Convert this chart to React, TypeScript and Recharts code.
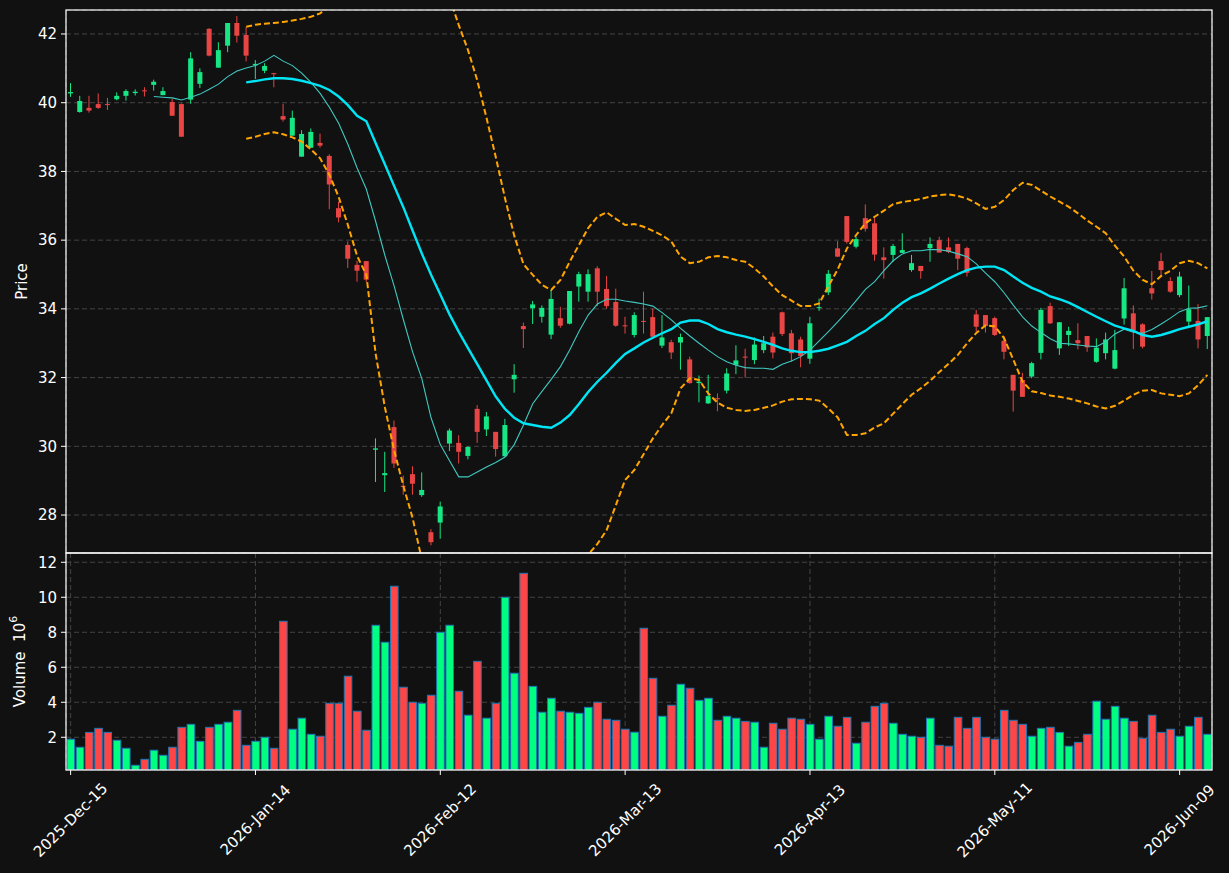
import React from "react";
import { Bar, CartesianGrid, ComposedChart, Line, XAxis, YAxis } from "recharts";

const W = 1229;
const H = 873;
const SPLIT = 553; // boundary between price and volume panels
const PLOT_LEFT = 66;
const PLOT_RIGHT = 1212;
const PRICE_TOP = 10;
const VOL_BOTTOM = 770;

const BG = "#111111";
const FG = "#ffffff";
const GRID = "#444444";
const FONT = "DejaVu Sans, Verdana, sans-serif";
const FS = 15;
const UP = "#17e685";
const DOWN = "#e84545";
const VOL_UP = "#00ff80";
const VOL_DOWN = "#ff4545";

// NYSE trading days starting 2025-12-15
const HOLIDAYS = ["2025-12-25", "2026-01-01", "2026-01-19", "2026-02-16", "2026-04-03", "2026-05-25"];
const MONTHS = ["Jan", "Feb", "Mar", "Apr", "May", "Jun", "Jul", "Aug", "Sep", "Oct", "Nov", "Dec"];

function tradingDays(start: string, count: number): string[] {
  const out: string[] = [];
  const d = new Date(start + "T00:00:00Z");
  while (out.length < count) {
    const iso = d.toISOString().slice(0, 10);
    const dow = d.getUTCDay();
    if (dow !== 0 && dow !== 6 && !HOLIDAYS.includes(iso)) {
      out.push(`${iso.slice(0, 4)}-${MONTHS[d.getUTCMonth()]}-${iso.slice(8, 10)}`);
    }
    d.setUTCDate(d.getUTCDate() + 1);
  }
  return out;
}

const open = [
  40.27, 39.73, 39.85, 39.96, 39.96, 40.1, 40.2, 40.28, 40.36, 40.52,
  40.22, 40.02, 39.96, 40.09, 40.55, 42.15, 41.02, 41.66, 42.32, 41.97,
  41.09, 40.93, 40.86, 39.61, 39.04, 38.43, 38.69, 38.83, 38.45, 36.93,
  35.86, 35.28, 35.39, 29.9, 29.16, 30.56, 28.85, 29.19, 28.58, 27.5,
  27.78, 30.08, 30.1, 29.72, 31.09, 30.49, 30.42, 29.71, 31.95, 33.5,
  34.02, 33.77, 33.25, 33.73, 33.57, 34.65, 34.5, 35.18, 34.58, 34.2,
  33.52, 33.24, 33.65, 33.76, 32.93, 33.03, 33.02, 32.53, 31.84, 31.25,
  31.4, 31.62, 32.37, 32.61, 32.51, 32.8, 33.19, 33.9, 33.29, 33.11,
  32.55, 34.02, 34.48, 35.76, 36.7, 35.81, 36.64, 36.49, 35.5, 35.57,
  35.63, 35.13, 35.25, 35.77, 36.0, 35.79, 35.89, 35.77, 33.84, 33.82,
  33.73, 33.07, 32.08, 31.93, 32.03, 32.72, 34.08, 32.85, 33.24, 33.09,
  33.21, 32.46, 32.71, 32.26, 33.72, 33.87, 33.55, 34.6, 35.39, 34.81,
  34.4, 33.63, 33.65, 33.21,
];

const high = [
  40.57, 40.2, 40.2, 40.27, 40.14, 40.3, 40.39, 40.39, 40.45, 40.67,
  40.45, 40.11, 39.98, 41.47, 41.0, 42.17, 41.76, 42.32, 42.52, 42.2,
  41.24, 41.15, 40.87, 39.97, 39.77, 39.2, 39.25, 39.1, 38.5, 37.12,
  35.96, 35.4, 35.39, 30.23, 29.84, 30.75, 29.15, 29.42, 29.24, 27.59,
  28.39, 30.52, 30.32, 30.0, 31.2, 31.0, 30.42, 30.8, 32.39, 33.6,
  34.23, 34.1, 34.55, 34.06, 34.52, 35.08, 35.15, 35.24, 34.96, 34.59,
  33.77, 33.9, 34.5, 34.01, 33.82, 33.1, 33.28, 32.61, 32.06, 32.08,
  31.54, 32.27, 32.94, 32.84, 33.17, 33.21, 33.31, 33.92, 33.39, 33.19,
  33.77, 34.3, 35.13, 35.97, 36.7, 36.1, 37.04, 36.64, 35.79, 35.89,
  36.2, 35.57, 35.25, 36.08, 36.1, 36.08, 35.89, 35.81, 33.97, 33.82,
  33.77, 33.21, 32.08, 32.14, 32.46, 34.03, 34.18, 33.61, 33.48, 33.58,
  33.21, 33.14, 33.31, 33.39, 34.9, 34.1, 33.58, 35.1, 35.63, 34.92,
  35.08, 34.68, 34.14, 33.76,
];

const low = [
  40.17, 39.71, 39.71, 39.82, 39.79, 40.07, 40.06, 40.21, 40.18, 40.35,
  40.22, 39.62, 39.01, 39.97, 40.43, 41.35, 41.02, 41.47, 41.75, 41.2,
  40.69, 40.86, 40.45, 39.45, 39.04, 38.43, 38.69, 38.69, 36.9, 36.52,
  35.19, 34.79, 34.78, 28.96, 28.67, 29.37, 28.59, 28.59, 28.53, 27.12,
  27.31, 29.86, 29.5, 29.62, 30.1, 30.3, 29.7, 29.7, 31.56, 32.86,
  33.56, 33.6, 33.12, 33.45, 33.55, 34.21, 34.21, 34.08, 34.01, 33.48,
  33.28, 33.17, 33.28, 33.19, 32.86, 32.54, 32.23, 31.82, 31.28, 31.23,
  31.02, 31.54, 32.1, 32.0, 32.39, 32.71, 32.56, 33.21, 32.46, 32.3,
  32.4, 33.94, 34.4, 35.51, 35.9, 35.76, 36.25, 35.4, 34.88, 35.37,
  35.63, 35.08, 34.88, 35.37, 35.64, 35.62, 35.13, 34.94, 33.34, 33.31,
  33.21, 32.53, 31.01, 31.44, 31.98, 32.53, 33.56, 32.66, 32.92, 32.82,
  32.75, 32.43, 32.53, 32.24, 33.54, 32.83, 32.85, 34.27, 34.99, 34.47,
  34.34, 33.5, 32.85, 32.83,
];

const close = [
  40.31, 40.05, 39.77, 39.85, 39.94, 40.2, 40.34, 40.32, 40.34, 40.61,
  40.34, 39.62, 39.01, 41.29, 40.89, 41.37, 41.53, 42.32, 41.95, 41.37,
  41.13, 41.07, 40.83, 39.51, 39.56, 39.09, 39.15, 38.75, 37.62, 36.66,
  35.46, 35.11, 34.85, 29.94, 29.22, 29.5, 28.82, 28.91, 28.73, 27.21,
  28.25, 30.46, 29.84, 29.98, 30.42, 30.87, 29.92, 30.62, 32.08, 33.41,
  34.13, 34.03, 34.29, 33.51, 34.52, 35.01, 35.01, 34.5, 34.08, 33.51,
  33.5, 33.82, 33.63, 33.19, 33.17, 32.73, 33.18, 31.84, 31.88, 31.46,
  31.37, 32.12, 32.5, 32.58, 32.96, 33.0, 32.73, 33.27, 32.71, 32.63,
  33.58, 34.05, 35.02, 35.52, 35.95, 36.03, 36.33, 35.58, 35.42, 35.83,
  35.71, 35.33, 35.1, 35.89, 35.64, 35.66, 35.46, 35.05, 33.48, 33.5,
  33.24, 32.75, 31.62, 31.44, 32.42, 33.97, 33.58, 33.61, 33.36, 33.0,
  32.88, 32.87, 33.11, 32.8, 34.6, 33.37, 32.9, 34.45, 35.13, 34.5,
  34.94, 33.99, 33.11, 33.76,
];

// volume, millions
const volume = [
  1.89, 1.43, 2.28, 2.51, 2.28, 1.83, 1.37, 0.4, 0.74, 1.26,
  0.97, 1.43, 2.57, 2.74, 1.77, 2.57, 2.74, 2.86, 3.54, 1.54,
  1.77, 2.0, 1.37, 8.63, 2.46, 3.09, 2.17, 2.06, 3.94, 3.94,
  5.49, 3.49, 2.4, 8.4, 7.43, 10.63, 4.86, 4.0, 3.94, 4.4,
  8.0, 8.4, 4.63, 3.26, 6.34, 3.09, 3.94, 10.0, 5.66, 11.37,
  4.91, 3.43, 4.23, 3.49, 3.43, 3.37, 3.71, 4.0, 3.03, 2.97,
  2.46, 2.29, 8.23, 5.37, 3.2, 3.83, 5.03, 4.8, 4.11, 4.23,
  2.97, 3.2, 3.09, 2.91, 2.86, 1.43, 2.8, 2.46, 3.09, 3.03,
  2.74, 1.89, 3.2, 2.63, 3.14, 1.66, 2.86, 3.77, 3.94, 2.8,
  2.17, 2.06, 2.0, 3.09, 1.54, 1.49, 3.14, 2.51, 3.14, 2.0,
  1.89, 3.54, 2.97, 2.74, 2.06, 2.51, 2.57, 2.28, 1.49, 1.71,
  2.17, 4.06, 3.03, 3.77, 3.09, 2.91, 1.94, 3.26, 2.28, 2.46,
  2.06, 2.63, 3.14, 2.17,
];

const lead = (n: number) => Array<number | null>(n).fill(null);

const ma10 = [
  ...lead(9),
  40.18, 40.16, 40.14, 40.08, 40.16, 40.25, 40.39, 40.54, 40.76, 40.92,
  41.01, 41.08, 41.21, 41.38, 41.21, 41.08, 40.86, 40.59, 40.27, 39.87,
  39.4, 38.79, 38.1, 37.48, 36.55, 35.56, 34.67, 33.69, 32.75, 31.97,
  30.83, 30.05, 29.58, 29.11, 29.11, 29.25, 29.4, 29.53, 29.69, 30.05,
  30.62, 31.24, 31.6, 31.95, 32.32, 32.8, 33.34, 33.82, 34.14, 34.28,
  34.28, 34.23, 34.19, 34.14, 34.08, 33.89, 33.68, 33.43, 33.21, 33.0,
  32.8, 32.61, 32.46, 32.36, 32.29, 32.27, 32.27, 32.24, 32.39, 32.48,
  32.61, 32.8, 33.07, 33.34, 33.62, 33.92, 34.24, 34.57, 34.79, 35.11,
  35.4, 35.6, 35.69, 35.69, 35.73, 35.72, 35.68, 35.6, 35.52, 35.31,
  35.04, 34.79, 34.47, 34.11, 33.77, 33.5, 33.31, 33.13, 33.0, 32.98,
  32.95, 32.92, 32.9, 33.04, 33.27, 33.41, 33.32, 33.29, 33.4, 33.56,
  33.73, 33.92, 34.02, 34.03, 34.09,
];

const ma20 = [
  ...lead(19),
  40.59, 40.63, 40.68, 40.71, 40.71, 40.69, 40.64, 40.57, 40.49, 40.37,
  40.18, 39.93, 39.62, 39.46, 38.83, 38.21, 37.58, 36.96, 36.28, 35.61,
  34.99, 34.42, 33.84, 33.33, 32.86, 32.39, 31.92, 31.45, 31.09, 30.83,
  30.67, 30.62, 30.57, 30.54, 30.69, 30.91, 31.23, 31.58, 31.88, 32.14,
  32.43, 32.69, 32.85, 33.02, 33.16, 33.29, 33.41, 33.6, 33.66, 33.66,
  33.56, 33.41, 33.32, 33.25, 33.19, 33.12, 33.04, 32.95, 32.85, 32.78,
  32.74, 32.74, 32.78, 32.84, 32.94, 33.04, 33.21, 33.36, 33.56, 33.73,
  33.97, 34.18, 34.34, 34.45, 34.59, 34.74, 34.88, 35.01, 35.13, 35.2,
  35.23, 35.23, 35.13, 34.94, 34.76, 34.61, 34.5, 34.36, 34.28, 34.18,
  34.05, 33.91, 33.77, 33.64, 33.51, 33.43, 33.36, 33.24, 33.19, 33.24,
  33.32, 33.41, 33.48, 33.55, 33.64,
];

const bbUpper = [
  ...lead(19),
  42.21, 42.27, 42.3, 42.32, 42.35, 42.39, 42.44, 42.5, 42.6, 42.84,
  43.1, 43.42, 43.7, 43.93, 44.96, 45.28, 45.27, 45.07, 44.64, 44.5,
  44.2, 43.7, 43.05, 42.26, 41.53, 40.65, 39.56, 38.42, 37.22, 36.13,
  35.3, 34.99, 34.7, 34.55, 34.84, 35.37, 35.86, 36.35, 36.68, 36.81,
  36.62, 36.44, 36.47, 36.39, 36.27, 36.14, 35.96, 35.52, 35.33, 35.37,
  35.5, 35.54, 35.5, 35.42, 35.37, 35.18, 34.94, 34.65, 34.4, 34.24,
  34.08, 34.08, 34.16, 34.66, 35.15, 35.76, 36.15, 36.49, 36.68, 36.86,
  37.05, 37.11, 37.15, 37.2, 37.27, 37.31, 37.33, 37.29, 37.21, 37.07,
  36.91, 36.97, 37.17, 37.46, 37.67, 37.61, 37.44, 37.27, 37.12, 36.97,
  36.78, 36.57, 36.39, 36.2, 35.84, 35.52, 35.11, 34.84, 34.72, 34.96,
  35.11, 35.33, 35.4, 35.33, 35.18,
];

const bbLower = [
  ...lead(19),
  38.95, 39.01, 39.09, 39.14, 39.08, 38.99, 38.87, 38.64, 38.38, 37.9,
  37.26, 36.44, 35.54, 34.99, 32.7, 31.14, 29.89, 28.85, 27.92, 26.7,
  25.8, 25.1, 24.6, 24.4, 24.2, 24.13, 24.28, 24.48, 24.96, 25.53,
  26.04, 26.25, 26.44, 26.5, 26.4, 26.3, 26.5, 26.85, 27.16, 27.56,
  28.29, 29.02, 29.31, 29.77, 30.23, 30.62, 30.96, 31.69, 31.98, 31.93,
  31.54, 31.27, 31.12, 31.06, 31.03, 31.06, 31.12, 31.19, 31.3, 31.37,
  31.38, 31.37, 31.33, 31.1, 30.84, 30.33, 30.33, 30.38, 30.55, 30.67,
  30.95, 31.23, 31.5, 31.69, 31.91, 32.16, 32.4, 32.66, 33.0, 33.3,
  33.52, 33.49, 33.15, 32.52, 31.88, 31.6, 31.55, 31.48, 31.44, 31.39,
  31.32, 31.25, 31.16, 31.1, 31.18, 31.33, 31.5, 31.62, 31.64, 31.54,
  31.5, 31.46, 31.54, 31.78, 32.08,
];

const dates = tradingDays("2025-12-15", open.length);
const tickDates = dates.filter((_, i) => i % 20 === 0);
const priceTicks = [28, 30, 32, 34, 36, 38, 40, 42];
const volumeTicks = [2, 4, 6, 8, 10, 12];

const rows = dates.map((date, i) => ({
  date,
  open: open[i],
  high: high[i],
  low: low[i],
  close: close[i],
  up: close[i] >= open[i],
  volume: volume[i],
  ma10: ma10[i],
  ma20: ma20[i],
  bbUpper: bbUpper[i],
  bbLower: bbLower[i],
}));

function Candle(props: any) {
  const { x, y, width, height, payload } = props;
  if (!payload || height == null) return null;
  const top = Math.min(y, y + height);
  const span = Math.abs(height);
  const ppu = span / Math.max(payload.high - payload.low, 1e-6);
  const bodyTop = top + (payload.high - Math.max(payload.open, payload.close)) * ppu;
  const bodyH = Math.max(Math.abs(payload.open - payload.close) * ppu, 1);
  const color = payload.up ? UP : DOWN;
  const cx = x + width / 2;
  return (
    <g>
      <line x1={cx} x2={cx} y1={top} y2={top + span} stroke={color} strokeWidth={1} />
      <rect x={x} y={bodyTop} width={width} height={bodyH} fill={color} />
    </g>
  );
}

function VolumeBar(props: any) {
  const { x, y, width, height, payload } = props;
  if (!payload || height == null) return null;
  return (
    <rect
      x={x}
      y={Math.min(y, y + height)}
      width={width}
      height={Math.abs(height)}
      fill={payload.up ? VOL_UP : VOL_DOWN}
      stroke="#1f77b4"
      strokeWidth={1}
    />
  );
}

function DateTick(props: any) {
  const { x, y, payload } = props;
  const cy = y + 45;
  return (
    <text
      x={x}
      y={cy}
      fill={FG}
      fontSize={FS}
      fontFamily={FONT}
      textAnchor="middle"
      dominantBaseline="central"
      transform={`rotate(-45 ${x} ${cy})`}
    >
      {payload.value}
    </text>
  );
}

const yTick = { fill: FG, fontSize: FS, fontFamily: FONT };

export default function App() {
  const priceMid = (PRICE_TOP + SPLIT) / 2;
  const volMid = (SPLIT + VOL_BOTTOM) / 2;
  return (
    <div style={{ position: "absolute", left: 0, top: 0, width: W, height: H, background: BG, overflow: "hidden" }}>
      <div style={{ position: "absolute", left: 0, top: 0 }}>
        <ComposedChart
          width={W}
          height={SPLIT}
          data={rows}
          margin={{ top: PRICE_TOP, right: W - PLOT_RIGHT, bottom: 0, left: 0 }}
        >
          <CartesianGrid stroke={GRID} strokeDasharray="5 3" />
          <XAxis dataKey="date" ticks={tickDates} interval={0} height={0} tick={false} tickLine={false} axisLine={false} />
          <YAxis
            domain={[26.895, 42.698]}
            allowDataOverflow
            ticks={priceTicks}
            interval={0}
            width={PLOT_LEFT}
            tick={yTick}
            tickLine={{ stroke: FG }}
            tickSize={5}
            tickMargin={4}
            axisLine={false}
          />
          <Bar dataKey={(d: any) => [d.low, d.high]} barSize={5} shape={Candle} isAnimationActive={false} />
          <Line type="linear" dataKey="ma10" stroke="#3fc9c1" strokeWidth={1.1} dot={false} activeDot={false} isAnimationActive={false} />
          <Line type="linear" dataKey="ma20" stroke="#00e5f5" strokeWidth={2.4} dot={false} activeDot={false} isAnimationActive={false} />
          <Line type="linear" dataKey="bbUpper" stroke="#ffa500" strokeWidth={2} strokeDasharray="6 3" dot={false} activeDot={false} isAnimationActive={false} />
          <Line type="linear" dataKey="bbLower" stroke="#ffa500" strokeWidth={2} strokeDasharray="6 3" dot={false} activeDot={false} isAnimationActive={false} />
        </ComposedChart>
      </div>

      <div style={{ position: "absolute", left: 0, top: SPLIT }}>
        <ComposedChart
          width={W}
          height={H - SPLIT}
          data={rows}
          margin={{ top: 0, right: W - PLOT_RIGHT, bottom: 0, left: 0 }}
        >
          <CartesianGrid stroke={GRID} strokeDasharray="5 3" />
          <XAxis
            dataKey="date"
            ticks={tickDates}
            interval={0}
            height={H - VOL_BOTTOM}
            tick={DateTick}
            tickLine={{ stroke: FG }}
            tickSize={5}
            tickMargin={0}
            axisLine={false}
          />
          <YAxis
            domain={[0.13, 12.53]}
            allowDataOverflow
            ticks={volumeTicks}
            interval={0}
            width={PLOT_LEFT}
            tick={yTick}
            tickLine={{ stroke: FG }}
            tickSize={5}
            tickMargin={4}
            axisLine={false}
          />
          <Bar dataKey="volume" barSize={7.6} shape={VolumeBar} isAnimationActive={false} />
        </ComposedChart>
      </div>

      <svg width={W} height={H} style={{ position: "absolute", left: 0, top: 0, pointerEvents: "none" }}>
        <rect x={PLOT_LEFT} y={PRICE_TOP} width={PLOT_RIGHT - PLOT_LEFT} height={SPLIT - PRICE_TOP} fill="none" stroke={FG} strokeWidth={1.2} />
        <rect x={PLOT_LEFT} y={SPLIT} width={PLOT_RIGHT - PLOT_LEFT} height={VOL_BOTTOM - SPLIT} fill="none" stroke={FG} strokeWidth={1.2} />
        <text
          x={22}
          y={priceMid}
          fill={FG}
          fontSize={FS}
          fontFamily={FONT}
          textAnchor="middle"
          dominantBaseline="central"
          transform={`rotate(-90 22 ${priceMid})`}
        >
          Price
        </text>
        <text
          x={20}
          y={volMid}
          fill={FG}
          fontSize={FS}
          fontFamily={FONT}
          textAnchor="middle"
          dominantBaseline="central"
          style={{ whiteSpace: "pre" }}
          transform={`rotate(-90 20 ${volMid})`}
        >
          <tspan>{"Volume  10"}</tspan>
          <tspan dy={-7} fontSize={11}>6</tspan>
        </text>
      </svg>
    </div>
  );
}
